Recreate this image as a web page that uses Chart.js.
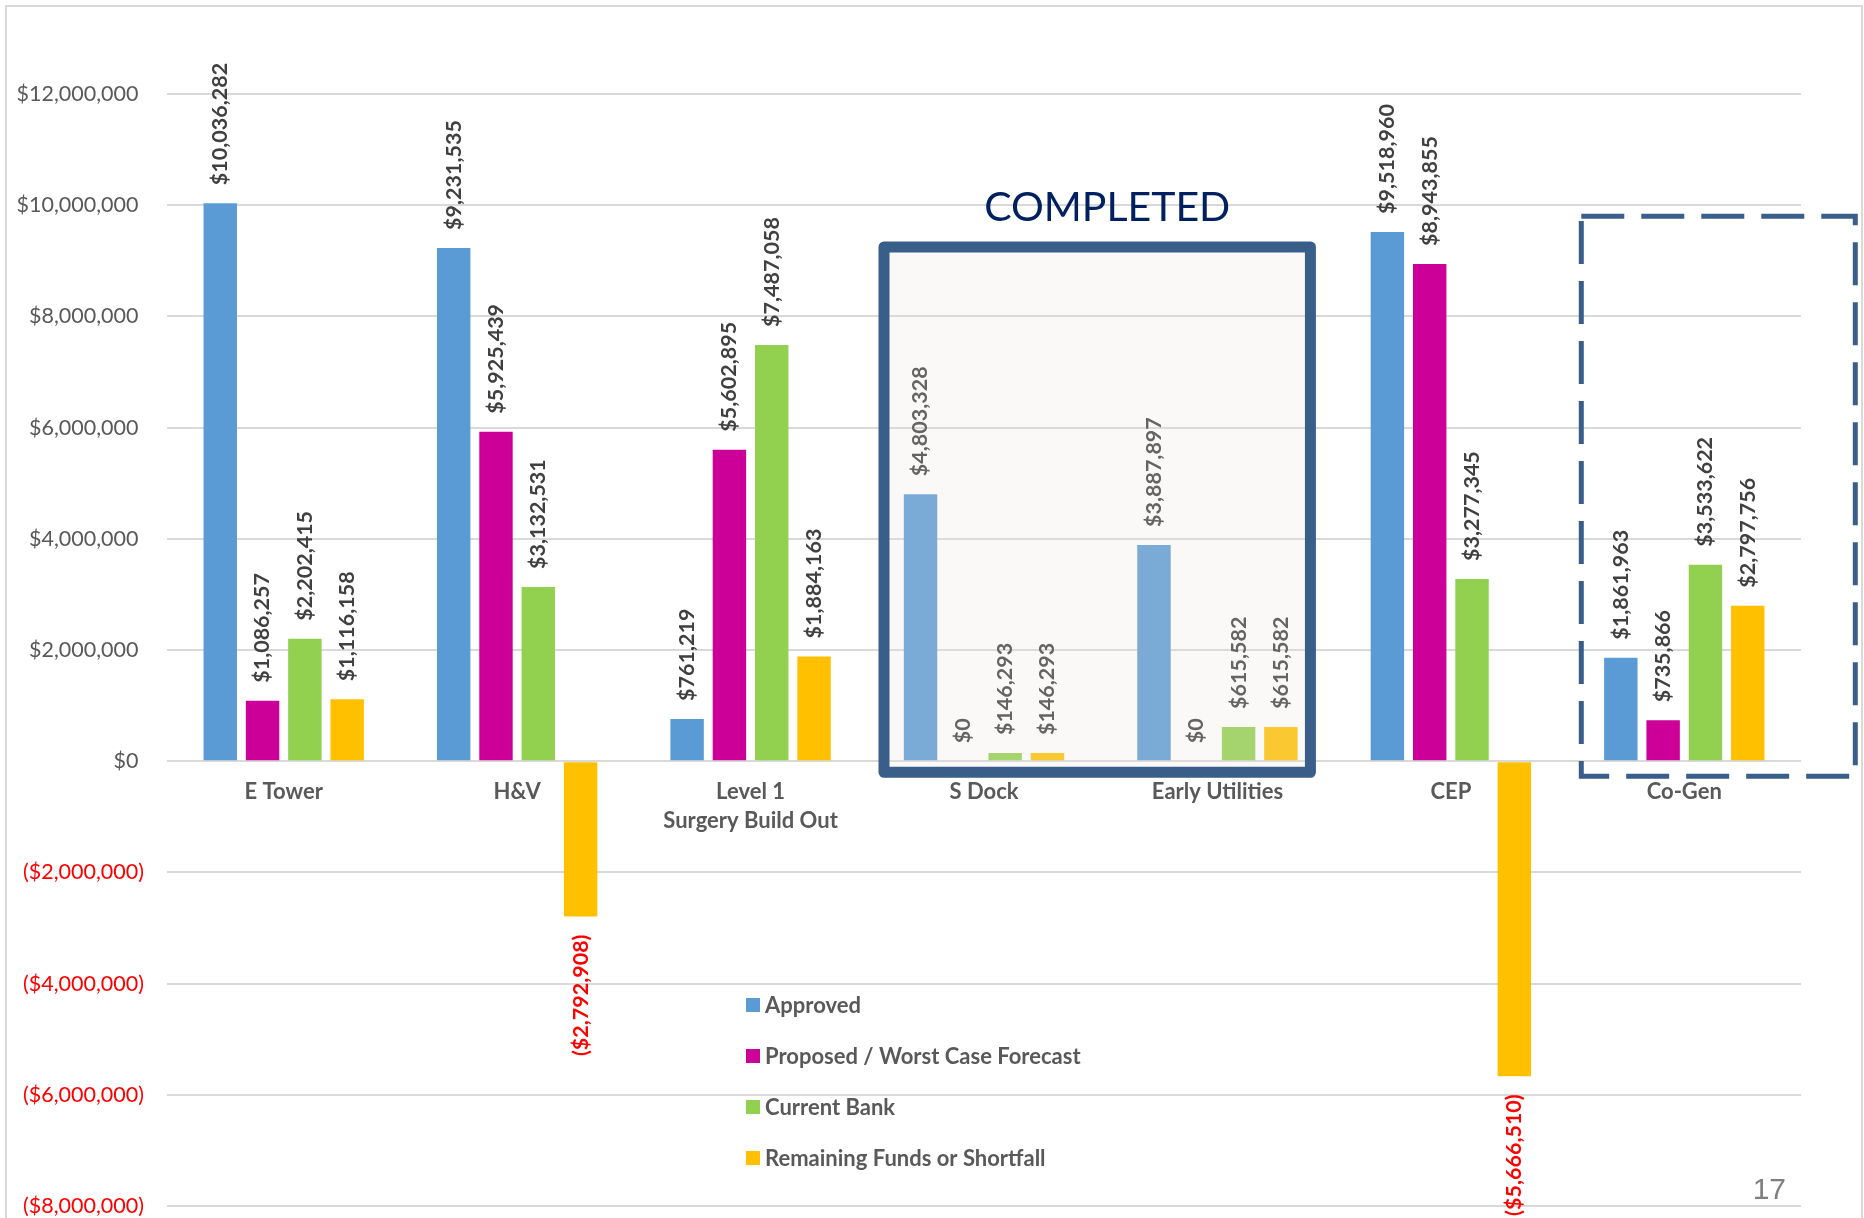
<!DOCTYPE html>
<html>
<head>
<meta charset="utf-8">
<script src="https://cdn.jsdelivr.net/npm/chart.js@4.4.1/dist/chart.umd.min.js"></script>
<style>
  html, body { margin: 0; padding: 0; background: #fff; overflow: hidden; }
  #wrap { width: 1864px; height: 1218px; position: relative; }
</style>
</head>
<body>
<div id="wrap"><canvas id="budgetChart"></canvas></div>
<script>
let categories = ["E Tower", "H&V", ["Level 1", "Surgery Build Out"], "S Dock", "Early Utilities", "CEP", "Co-Gen"];
let seriesNames = ["Approved", "Proposed / Worst Case Forecast", "Current Bank", "Remaining Funds or Shortfall"];
let approved = [10036282, 9231535, 761219, 4803328, 3887897, 9518960, 1861963];
let proposed = [1086257, 5925439, 5602895, 0, 0, 8943855, 735866];
let currentBank = [2202415, 3132531, 7487058, 146293, 615582, 3277345, 3533622];
let remaining = [1116158, -2792908, 1884163, 146293, 615582, -5666510, 2797756];
let yTicks = [-8000000, -6000000, -4000000, -2000000, 0, 2000000, 4000000, 6000000, 8000000, 10000000, 12000000];
let colors = ["#5b9bd5", "#cc0099", "#92d050", "#ffc000"];

// completed = S Dock + Early Utilities, dashed = Co-Gen
let completedIdx = [3, 4];
let dashedIdx = 6;

function money(v) {
  let s = "$" + Math.abs(v).toLocaleString("en-US");
  return v < 0 ? "(" + s + ")" : s;
}

const valueLabels = {
  id: "valueLabels",
  afterDatasetsDraw(chart) {
    let ctx = chart.ctx;
    ctx.save();
    ctx.font = "bold 21.5px Lato";
    ctx.textBaseline = "middle";
    chart.data.datasets.forEach((ds, di) => {
      let meta = chart.getDatasetMeta(di);
      meta.data.forEach((bar, i) => {
        let v = ds.data[i];
        ctx.save();
        if (v < 0) {
          ctx.translate(bar.x, bar.y + 18);
          ctx.rotate(-Math.PI / 2);
          ctx.textAlign = "right";
          ctx.fillStyle = "#ff0000";
        } else {
          ctx.translate(bar.x, bar.y - 18);
          ctx.rotate(-Math.PI / 2);
          ctx.textAlign = "left";
          ctx.fillStyle = "#404040";
        }
        ctx.fillText(money(v), 0, 0);
        ctx.restore();
      });
    });
    ctx.restore();
  }
};

const decorations = {
  id: "decorations",
  afterDraw(chart) {
    let ctx = chart.ctx;
    let x = chart.scales.x, y = chart.scales.y;
    ctx.save();

    // completed box
    let bx1 = x.getPixelForValue(completedIdx[0]) - 100;
    let bx2 = x.getPixelForValue(completedIdx[1]) + 93;
    let by1 = y.getPixelForValue(9250000);
    let by2 = y.getPixelForValue(-200000);
    ctx.fillStyle = "rgba(232,227,218,0.22)";
    ctx.fillRect(bx1, by1, bx2 - bx1, by2 - by1);
    ctx.strokeStyle = "#3a5e8a";
    ctx.lineWidth = 11;
    ctx.lineJoin = "round";
    ctx.strokeRect(bx1, by1, bx2 - bx1, by2 - by1);

    ctx.fillStyle = "#002060";
    ctx.font = "41px Lato";
    ctx.textAlign = "center";
    ctx.textBaseline = "middle";
    ctx.fillText("COMPLETED", (bx1 + bx2) / 2 + 10, by1 - 39);

    // dashed box
    let dx1 = x.getPixelForValue(dashedIdx) - 103;
    let dx2 = x.getPixelForValue(dashedIdx) + 171;
    let dy1 = y.getPixelForValue(9800000);
    let dy2 = y.getPixelForValue(-270000);
    ctx.setLineDash([43, 17]);
    ctx.lineWidth = 5;
    ctx.lineJoin = "miter";
    ctx.strokeRect(dx1, dy1, dx2 - dx1, dy2 - dy1);
    ctx.setLineDash([]);

    // legend
    ctx.font = "bold 22px Lato";
    ctx.textAlign = "left";
    ctx.textBaseline = "middle";
    chart.data.datasets.forEach((ds, i) => {
      let ly = 1005 + i * 51;
      ctx.fillStyle = ds.backgroundColor;
      ctx.fillRect(746, ly - 7, 14, 14);
      ctx.fillStyle = "#595959";
      ctx.fillText(ds.label, 765, ly + 1);
    });

    // page number
    ctx.font = "30px 'Liberation Sans'";
    ctx.fillStyle = "#7f7f7f";
    ctx.textAlign = "right";
    ctx.textBaseline = "alphabetic";
    ctx.fillText("17", 1786, 1199);

    // page frame
    ctx.strokeStyle = "#d9d9d9";
    ctx.lineWidth = 2;
    ctx.strokeRect(6, 6, 1856, 1230);
    ctx.restore();
  }
};

let ctx = document.getElementById("budgetChart").getContext("2d");
let chart = new Chart(ctx, {
  type: "bar",
  data: {
    labels: categories,
    datasets: [
      { label: seriesNames[0], data: approved, backgroundColor: colors[0] },
      { label: seriesNames[1], data: proposed, backgroundColor: colors[1] },
      { label: seriesNames[2], data: currentBank, backgroundColor: colors[2] },
      { label: seriesNames[3], data: remaining, backgroundColor: colors[3] }
    ]
  },
  options: {
    responsive: true,
    maintainAspectRatio: false,
    animation: false,
    devicePixelRatio: 1,
    datasets: { bar: { categoryPercentage: 0.725, barPercentage: 0.79, borderWidth: 0 } },
    layout: { padding: { top: 94, right: 63, bottom: 12, left: 0 } },
    plugins: { legend: { display: false }, tooltip: { enabled: false } },
    scales: {
      x: {
        position: { y: 0 },
        grid: { display: false, drawTicks: false },
        border: { display: false },
        ticks: {
          color: "#595959",
          font: { family: "Lato", size: 22, weight: "bold", lineHeight: 1.33 },
          padding: 16,
          maxRotation: 0,
          autoSkip: false
        }
      },
      y: {
        min: yTicks[0],
        max: yTicks[yTicks.length - 1],
        afterBuildTicks: s => { s.ticks = yTicks.map(v => ({ value: v })); },
        afterFit: s => { s.width = 167; s.paddingTop = 12; s.paddingBottom = 12; },
        grid: { color: "#d9d9d9", lineWidth: 2, drawTicks: false },
        border: { display: false },
        ticks: {
          padding: 23,
          font: { family: "Lato", size: 21.5 },
          color: c => (c.tick && c.tick.value < 0 ? "#ff0000" : "#595959"),
          callback: v => (v < 0 ? money(v) : money(v) + " ")
        }
      }
    }
  },
  plugins: [valueLabels, decorations]
});
</script>
</body>
</html>
